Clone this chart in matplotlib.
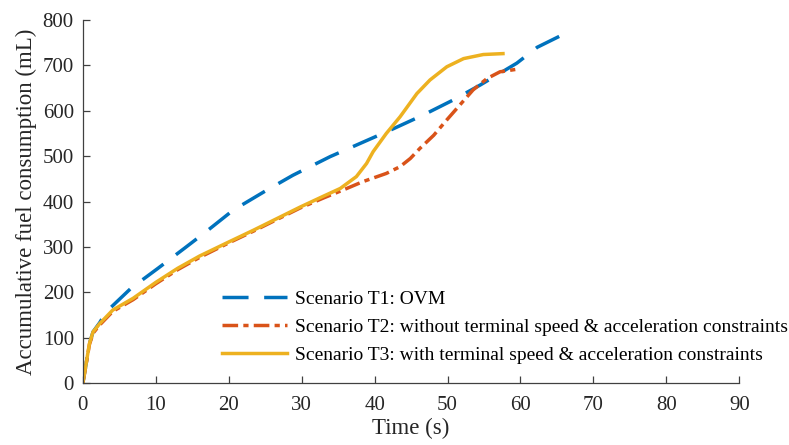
import numpy as np
import matplotlib.pyplot as plt

plt.rcParams['font.family'] = ['Liberation Serif', 'DejaVu Serif']

# time (s) and accumulative fuel (mL)
t1 = [0, 0.45, 0.9, 1.4, 2.3, 3.2, 6.6, 10.3, 14, 17, 20.6, 25.2, 28.8, 33.9,
      38, 42.1, 46.7, 50.8, 54.5, 59.5, 62.3, 65.7]
f1 = [0, 43, 87, 113, 133, 157, 209, 253, 298, 335, 381, 425, 458, 499,
      528, 557, 591, 624, 657, 705, 740, 767]

t2 = [0, 0.45, 0.9, 1.4, 2.3, 4.1, 6.9, 10, 13, 16, 20, 23.4, 29.8, 33, 36.2,
      38.4, 41.6, 43.5, 44.9, 46.2, 48.1, 49.9, 51.7, 53.5, 55.4, 57.2, 59.7]
f2 = [0, 42, 85, 110, 128, 158, 184, 219, 250, 277, 309, 335, 386, 408, 429,
      444, 462, 477, 495, 517, 546, 580, 613, 646, 671, 686, 692]

t3 = [0, 0.45, 0.9, 1.4, 2.3, 4.1, 6.9, 10, 13, 16, 20, 23.4, 29.8, 33, 35.3,
      37.5, 38.9, 39.8, 41.6, 43.5, 45.8, 47.6, 49.9, 52.2, 54.9, 57.6]
f3 = [0, 43, 87, 113, 131, 161, 187, 222, 253, 280, 311, 337, 388, 412, 429,
      455, 484, 510, 550, 587, 638, 668, 697, 715, 724, 726]

labels = ['Scenario T1: OVM',
          'Scenario T2: without terminal speed & acceleration constraints',
          'Scenario T3: with terminal speed & acceleration constraints']

fig = plt.figure(figsize=(7.89, 4.45), dpi=100)
ax = fig.add_axes([0.105, 0.139, 0.832, 0.816])

ax.plot(t1, f1, color='#0072BD', lw=2.5, dashes=(7.5, 4.5), label=labels[0])
ax.plot(t2, f2, color='#D95319', lw=2.5, dashes=(4.5, 1.5, 1.5, 1.5), label=labels[1])
ax.plot(t3, f3, color='#EDB120', lw=2.5, label=labels[2])

ax.set_xlim(0, 90)
ax.set_ylim(0, 800)
ax.set_xticks(np.arange(0, 91, 10))
ax.set_yticks(np.arange(0, 801, 100))
ax.spines['top'].set_visible(False)
ax.spines['right'].set_visible(False)
for s in ['left', 'bottom']:
    ax.spines[s].set_color('#404040')
    ax.spines[s].set_linewidth(0.9)
ax.tick_params(direction='in', length=5, width=0.9, colors='#404040',
               labelcolor='#262626', labelsize=15)
ax.tick_params(axis='x', pad=9)
ax.tick_params(axis='y', pad=6.5)

ax.set_xlabel('Time (s)', fontsize=16.5, color='#262626', labelpad=2)
ax.set_ylabel('Accumulative fuel consumption (mL)', fontsize=16.5,
              color='#262626', labelpad=4)

ax.legend(loc='upper left', bbox_to_anchor=(0.212, 0.255), frameon=False,
          fontsize=14, handlelength=3.35, handletextpad=0.4, labelspacing=0.52,
          borderpad=0, borderaxespad=0)

fig.savefig('out.png', dpi=100)
